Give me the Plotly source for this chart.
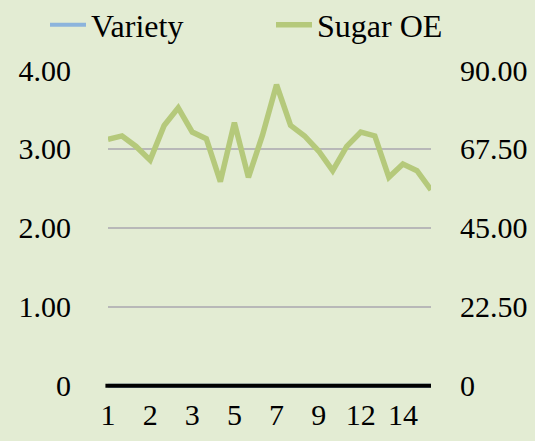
import plotly.graph_objects as go

# ---- data ----
sugar_oe = [70.2, 71.2, 68.2, 64.3, 74.2, 79.2, 72.3, 70.4, 58.2, 75.0, 59.4, 71.4,
            85.8, 74.2, 71.2, 66.9, 61.3, 68.2, 72.3, 71.2, 59.4, 63.2, 61.3, 55.8]
variety = [0] * len(sugar_oe)
x_idx = list(range(len(sugar_oe)))
x_tick_labels = ["1", "2", "3", "5", "7", "9", "12", "14"]
x_tick_pos = list(range(0, 24, 3))
left_ticks = [0, 1, 2, 3, 4]
left_tick_text = ["0", "1.00", "2.00", "3.00", "4.00"]
right_ticks = [0, 22.5, 45, 67.5, 90]
right_tick_text = ["0", "22.50", "45.00", "67.50", "90.00"]

FONT = "Liberation Serif"
BG = "#e3ecd3"

L, R, T, B = 108, 104, 70, 53
PW, PH = 535 - L - R, 441 - T - B
PAD = 0.03  # small space below zero so the base line is not clipped


def lx(px):
    return (px - L) / PW


LEG_Y = (441 - B - 25) / PH

fig = go.Figure()
fig.add_trace(go.Scatter(x=x_idx, y=variety, name="Variety", mode="lines",
                         line=dict(color="#8cb4dc", width=4), yaxis="y",
                         legend="legend"))
fig.add_trace(go.Scatter(x=x_idx, y=sugar_oe, name="Sugar OE", mode="lines",
                         line=dict(color="#b5c97b", width=5.5), yaxis="y2",
                         legend="legend2"))

# black base line at zero
fig.add_shape(type="line", xref="paper", yref="y", x0=-0.008, x1=1, y0=0, y1=0,
              line=dict(color="black", width=4), layer="above")

leg_common = dict(orientation="h", xanchor="left", y=LEG_Y, yanchor="middle",
                  font=dict(family=FONT, size=32, color="black"),
                  bgcolor="rgba(0,0,0,0)", itemwidth=36)

fig.update_layout(
    width=535, height=441,
    paper_bgcolor=BG, plot_bgcolor=BG,
    margin=dict(l=L, r=R, t=T, b=B, autoexpand=False),
    font=dict(family=FONT, size=30, color="black"),
    showlegend=True,
    legend=dict(x=lx(45), **leg_common),
    legend2=dict(x=lx(271), **leg_common),
    xaxis=dict(range=[0, 23], tickvals=x_tick_pos, ticktext=x_tick_labels,
               showgrid=False, zeroline=False, showline=False,
               ticks="", ticklabelstandoff=6, automargin=False),
    yaxis=dict(range=[-PAD, 4], tickvals=left_ticks, ticktext=left_tick_text,
               showgrid=True, gridcolor="#b8b8b8", gridwidth=2, zeroline=False,
               ticks="", ticklabelstandoff=36, automargin=False),
    yaxis2=dict(range=[-PAD * 22.5, 90], tickvals=right_ticks, ticktext=right_tick_text,
                overlaying="y", side="right", showgrid=False, zeroline=False,
                ticks="", ticklabelstandoff=28, automargin=False),
)

fig.write_html(
    "out.html",
    config={"displayModeBar": False},
    post_script="document.body.style.margin='0';document.body.style.overflow='hidden';",
)
